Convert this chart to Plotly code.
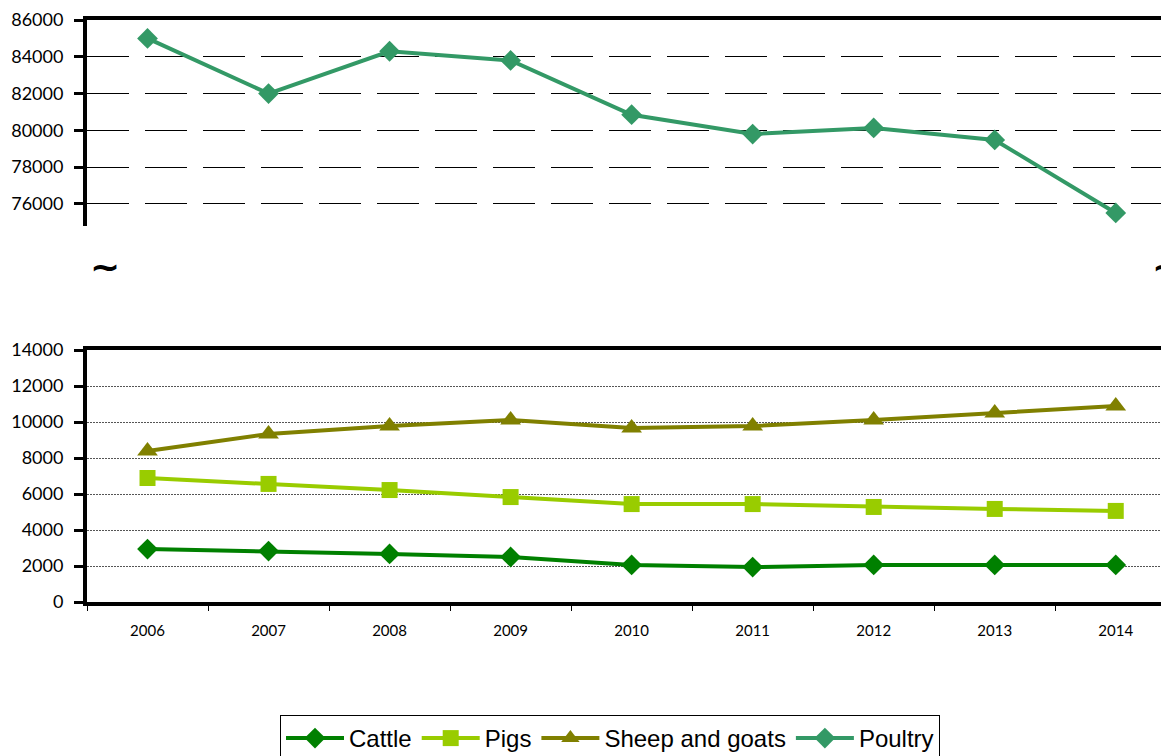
import plotly.graph_objects as go

years = ["2006", "2007", "2008", "2009", "2010", "2011", "2012", "2013", "2014"]
cattle = [2940, 2830, 2670, 2500, 2060, 1940, 2060, 2060, 2060]
pigs = [6890, 6560, 6220, 5830, 5440, 5440, 5280, 5170, 5060]
sheep_goats = [8390, 9330, 9780, 10110, 9670, 9780, 10110, 10500, 10890]
poultry = [85000, 82000, 84300, 83800, 80850, 79800, 80130, 79480, 75510]

# page has an 8px body margin; figure coords = page coords - 8
OFF = 8
L = 87 - OFF
R = 20
W = 1161 + R
H = 775
PW = W - L - R

def py(page_y):
    return (H - (page_y - OFF)) / H

def px(page_x):
    return (page_x - OFF - L) / PW

fig = go.Figure()
fig.add_trace(go.Scatter(x=years, y=cattle, name="Cattle", mode="lines+markers",
                         line=dict(color="#008000", width=4),
                         marker=dict(symbol="diamond", size=16, color="#008000"),
                         xaxis="x", yaxis="y"))
fig.add_trace(go.Scatter(x=years, y=pigs, name="Pigs", mode="lines+markers",
                         line=dict(color="#99CC00", width=4),
                         marker=dict(symbol="square", size=16, color="#99CC00"),
                         xaxis="x", yaxis="y"))
fig.add_trace(go.Scatter(x=years, y=sheep_goats, name="Sheep and goats", mode="lines+markers",
                         line=dict(color="#808000", width=4),
                         marker=dict(symbol="triangle-up", size=18, color="#808000"),
                         xaxis="x", yaxis="y"))
fig.add_trace(go.Scatter(x=years, y=poultry, name="Poultry", mode="lines+markers",
                         line=dict(color="#339966", width=4),
                         marker=dict(symbol="diamond", size=16, color="#339966"),
                         xaxis="x2", yaxis="y2"))

tickfont_y = dict(family="Lato, Open Sans, sans-serif", size=18, color="black")

fig.update_layout(
    width=W, height=H,
    margin=dict(l=L, r=R, t=0, b=0),
    paper_bgcolor="white", plot_bgcolor="white",
    showlegend=True,
    legend=dict(orientation="h", x=px(610), xanchor="center", y=py(715), yanchor="top",
                bordercolor="black", borderwidth=1, bgcolor="white",
                font=dict(family="Liberation Sans, Arial", size=24, color="black"),
                itemwidth=58, tracegroupgap=0),
    xaxis=dict(domain=[0, 1], range=[-0.5, 8.44], type="category", anchor="y",
               showline=True, linecolor="black", linewidth=4, mirror=True,
               ticks="outside", tickson="boundaries", ticklen=5, tickwidth=1, tickcolor="black",
               showgrid=False, tickfont=dict(family="Lato, Open Sans, sans-serif", size=15, color="black"),
               ticklabelstandoff=12, automargin=False),
    yaxis=dict(domain=[py(602), py(350)], range=[0, 14000], dtick=2000, tickformat="d", anchor="x",
               showline=True, linecolor="black", linewidth=4, mirror=False,
               ticks="outside", ticklen=9, tickwidth=3, tickcolor="black",
               showgrid=True, gridcolor="#555555", gridwidth=1, griddash="2px,1px",
               zeroline=False, tickfont=tickfont_y, ticklabelstandoff=7,
               ticklabeloverflow="allow", automargin=False),
    xaxis2=dict(domain=[0, 1], range=[-0.5, 8.44], type="category", anchor="y2", side="top",
                showline=True, linecolor="black", linewidth=4, mirror=False,
                showticklabels=False, ticks="", showgrid=False, automargin=False),
    yaxis2=dict(domain=[py(226), py(20)], range=[74800, 86000], tickformat="d",
                tickvals=[76000, 78000, 80000, 82000, 84000, 86000],
                anchor="x2", showline=True, linecolor="black", linewidth=4, mirror=False,
                ticks="outside", ticklen=9, tickwidth=3, tickcolor="black",
                showgrid=True, gridcolor="black", gridwidth=1, griddash="42px,16px",
                zeroline=False, tickfont=tickfont_y, ticklabelstandoff=7,
                ticklabeloverflow="allow", automargin=False),
    annotations=[
        dict(text="<b>~</b>", x=px(88), y=py(266), xref="paper", yref="paper",
             xanchor="left", yanchor="middle",
             showarrow=False, font=dict(size=36, color="black", family="DejaVu Sans")),
        dict(text="<b>~</b>", x=px(1150), y=py(266), xref="paper", yref="paper",
             xanchor="left", yanchor="middle",
             showarrow=False, font=dict(size=36, color="black", family="DejaVu Sans")),
    ],
)

fig.write_html("out.html")
